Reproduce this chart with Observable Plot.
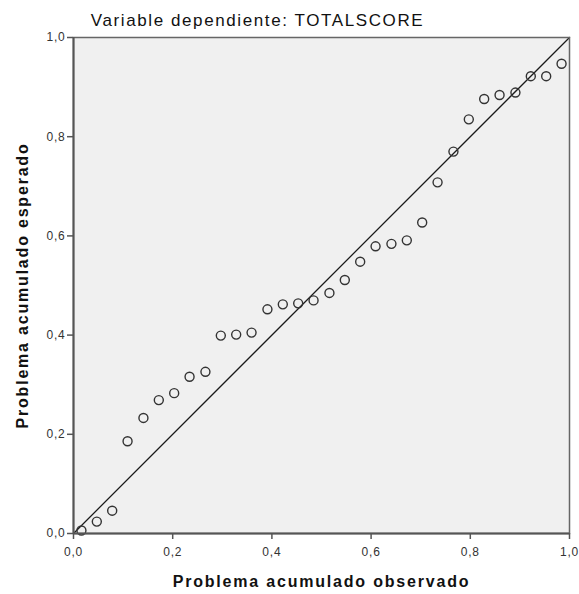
<!DOCTYPE html>
<html><head><meta charset="utf-8">
<script src="https://cdn.jsdelivr.net/npm/d3@7"></script>
<script src="https://cdn.jsdelivr.net/npm/@observablehq/plot@0.6"></script>
<style>
body{margin:0;background:#fff}
svg{display:block}
</style>
</head><body><div id="chart"></div>
<script>
const observed = [0.016,0.047,0.078,0.109,0.141,0.172,0.203,0.234,0.266,0.297,0.328,0.359,0.391,0.422,0.453,0.484,0.516,0.547,0.578,0.609,0.641,0.672,0.703,0.734,0.766,0.797,0.828,0.859,0.891,0.922,0.953,0.984];
const expected = [0.006,0.024,0.046,0.186,0.233,0.269,0.283,0.316,0.326,0.399,0.401,0.405,0.452,0.462,0.464,0.470,0.485,0.511,0.548,0.579,0.584,0.591,0.627,0.708,0.770,0.835,0.876,0.884,0.889,0.922,0.922,0.947];
const ticks = [0,0.2,0.4,0.6,0.8,1];
const tickLabels = ["0,0","0,2","0,4","0,6","0,8","1,0"];
const refLine = [0,1];
const title = "Variable dependiente: TOTALSCORE";
const xLabel = "Problema acumulado observado";
const yLabel = "Problema acumulado esperado";

const points = observed.map((x,i)=>({x, y: expected[i]}));
const fmt = d => tickLabels[ticks.indexOf(d)];
const font = "'Liberation Sans', Arial, sans-serif";

const chart = Plot.plot({
  width:579, height:594,
  marginTop:37, marginLeft:73, marginRight:10, marginBottom:61,
  style:{fontFamily:font, background:"#fff", overflow:"visible"},
  x:{domain:[0,1]}, y:{domain:[0,1]},
  marks:[
    Plot.frame({fill:"#f0f0f0", stroke:null}),
    Plot.line(refLine,{x:d=>d, y:d=>d, stroke:"#1a1a1a", strokeWidth:1.3}),
    Plot.dot(points,{x:"x", y:"y", r:4.5, stroke:"#333", strokeWidth:1.4, fill:"none"}),
    Plot.frame({stroke:"#666", strokeWidth:1.5}),
    Plot.ruleX([0],{stroke:"#555", strokeWidth:2}),
    Plot.ruleY([0],{stroke:"#555", strokeWidth:2}),
    Plot.axisX({ticks, tickFormat:fmt, tickSize:6, tickPadding:7.5, fontSize:12, label:null, stroke:"#555", strokeWidth:1.5, fill:"#333"}),
    Plot.axisY({ticks, tickFormat:fmt, tickSize:6, tickPadding:2, fontSize:12, label:null, stroke:"#555", strokeWidth:1.5, fill:"#333"}),
    Plot.text([title],{frameAnchor:"top", lineAnchor:"bottom", dy:-12, dx:-64, fontSize:17, fill:"#111"}),
    Plot.text([xLabel],{frameAnchor:"bottom", lineAnchor:"bottom", dy:53, fontSize:16, fontWeight:"bold", fill:"#111"}),
    Plot.text([yLabel],{frameAnchor:"left", textAnchor:"middle", rotate:-90, dx:-51, fontSize:16, fontWeight:"bold", fill:"#111"})
  ]
});
document.getElementById("chart").appendChild(chart);
d3.select(chart).selectAll("text").each(function(){
  const t = this.textContent;
  if (t === title) this.setAttribute("letter-spacing","1.6");
  else if (t === xLabel || t === yLabel) this.setAttribute("letter-spacing","1.8");
  else if (tickLabels.includes(t)) this.setAttribute("letter-spacing","0.8");
});
</script>
</body></html>
